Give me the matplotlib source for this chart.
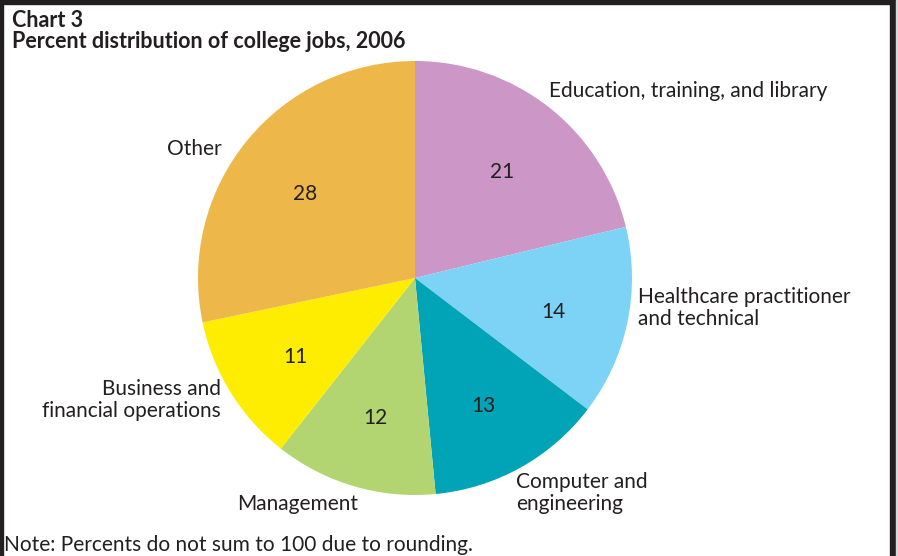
import matplotlib
matplotlib.use("Agg")
import matplotlib.pyplot as plt

# data
categories = ["Education, training, and library",
              "Healthcare practitioner\nand technical",
              "Computer and\nengineering",
              "Management",
              "Business and\nfinancial operations",
              "Other"]
percents = [21, 14, 13, 12, 11, 28]
colors = ["#CC96C6", "#7DD3F5", "#00A4B6", "#B2D572", "#FFED00", "#EDB74A"]

# label placement (pixel positions in the 898x556 image) and alignment
label_px = [(549, 91), (638, 308), (516, 493), (298, 504), (221, 400), (222, 149)]
label_ha = ["left", "left", "left", "center", "right", "right"]

W, H = 898, 556
CX, CY, R = 415, 278, 217

plt.rcParams['font.family'] = ['Lato', 'DejaVu Sans']

fig = plt.figure(figsize=(W / 100, H / 100), dpi=100)
ax = fig.add_axes([0, 0, 1, 1])

wedges, texts, autotexts = ax.pie(percents, colors=colors, startangle=90,
                                  counterclock=False, radius=1.0,
                                  autopct=lambda p: "", pctdistance=0.65,
                                  wedgeprops=dict(linewidth=0))
# pie resets the limits, so set them afterwards
ax.set_xlim(-CX / R, (W - CX) / R)
ax.set_ylim(-(H - CY) / R, CY / R)
ax.set_aspect("equal")
ax.axis("off")

for t, v in zip(autotexts, percents):
    t.set_text(str(v))
    t.set_fontsize(15)
    t.set_color("#231F20")
    x, y = t.get_position()
    t.set_position((x, y - 5 / R))

for name, (px, py), ha in zip(categories, label_px, label_ha):
    ax.text((px - CX) / R, (CY - py) / R, name, ha=ha, va="center",
            fontsize=15, color="#231F20", linespacing=1.1)

# titles and note
fig.text(12 / W, 1 - 27 / H, "Chart 3", fontsize=15.5, fontweight="bold",
         color="#231F20", va="baseline", ha="left")
fig.text(12 / W, 1 - 48 / H, "Percent distribution of college jobs, 2006",
         fontsize=15.5, fontweight="bold", color="#231F20", va="baseline", ha="left")
fig.text(4 / W, 1 - 545 / H, "Note: Percents do not sum to 100 due to rounding.",
         fontsize=15, color="#231F20", va="center", ha="left")

# frame: top, left, right black borders
border = "#231F20"
fig.patches.append(plt.Rectangle((0, 1 - 4 / H), 1, 4 / H, transform=fig.transFigure,
                                 color=border, zorder=5))
fig.patches.append(plt.Rectangle((0, 0), 3 / W, 1, transform=fig.transFigure,
                                 color=border, zorder=5))
fig.patches.append(plt.Rectangle((890 / W, 0), 6 / W, 1, transform=fig.transFigure,
                                 color=border, zorder=5))
fig.patches.append(plt.Rectangle((896 / W, 0), 2 / W, 1, transform=fig.transFigure,
                                 color="#D9D9D9", zorder=5))

fig.savefig("out.png", dpi=100)
